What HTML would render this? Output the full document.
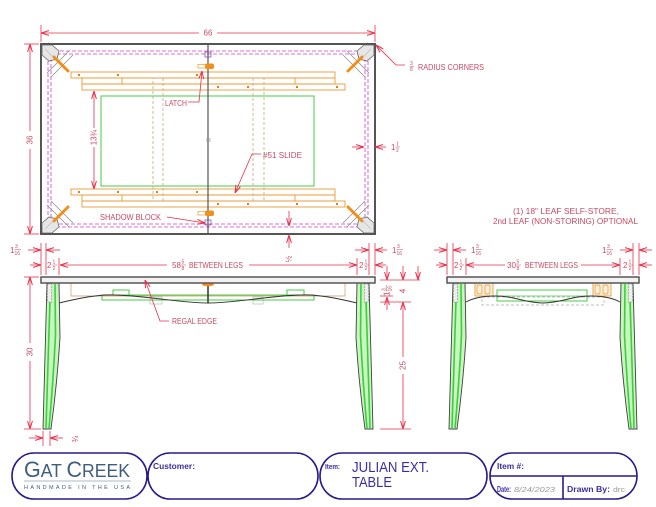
<!DOCTYPE html>
<html><head><meta charset="utf-8"><style>
html,body{margin:0;padding:0;background:#fff;}
svg{display:block;}
.d{font-family:"Liberation Sans",sans-serif;font-size:8px;fill:#c74a63;}
.f{font-family:"Liberation Sans",sans-serif;font-size:5px;fill:#c74a63;}
.dl{stroke:#e8304a;stroke-width:0.8;fill:none;}
.t{font-family:"Liberation Sans",sans-serif;fill:#3a2fa0;}
</style></head><body>
<svg width="656" height="507" viewBox="0 0 656 507" xmlns="http://www.w3.org/2000/svg">
<defs>
<marker id="ar" viewBox="0 0 8 6" refX="8" refY="3" markerWidth="8" markerHeight="6" markerUnits="userSpaceOnUse" orient="auto"><path d="M0,0.6 L8,3 L0,5.4" fill="none" stroke="#e8304a" stroke-width="1"/></marker>
<g id="cn">
 <line x1="47" y1="73" x2="69" y2="51" stroke="#8a8a8a" stroke-width="0.7"/>
 <line x1="51" y1="77" x2="73" y2="55" stroke="#8a8a8a" stroke-width="0.7"/>
 <path d="M42,45 L52,45 L59,51 L57,59 L49,61 L42,55 Z" fill="#e6e6e6" stroke="#6a6a6a" stroke-width="0.8"/>
 <line x1="45" y1="49" x2="53" y2="57" stroke="#999" stroke-width="0.5"/>
 <line x1="54" y1="57" x2="68" y2="71" stroke="#f0901a" stroke-width="3" stroke-linecap="round"/>
</g>
<g id="rl" fill="none" stroke="#eb9a35" stroke-width="0.9">
 <rect x="71" y="72" width="137" height="6"/>
 <rect x="82" y="78" width="126" height="12"/>
 <line x1="82" y1="84" x2="208" y2="84"/>
 <line x1="122" y1="78" x2="122" y2="84"/>
 <rect x="208" y="72" width="127" height="12"/>
 <line x1="208" y1="78" x2="335" y2="78"/>
 <line x1="295" y1="78" x2="295" y2="84"/>
 <rect x="208" y="84" width="137" height="6"/>
 <g fill="#d98020" stroke="none">
  <rect x="78" y="74" width="2" height="2"/><rect x="117" y="74" width="2" height="2"/><rect x="196" y="74" width="2" height="2"/>
  <rect x="217" y="86" width="2" height="2"/><rect x="247" y="86" width="2" height="2"/><rect x="296" y="86" width="2" height="2"/><rect x="336" y="86" width="2" height="2"/>
 </g>
</g>
<g id="lg">
 <path d="M47,283 L43,429 L51,429 Q57,385 60,338 L59,283 Z" fill="#c8f5c0" stroke="#404040" stroke-width="0.9"/>
 <path d="M50.5,284 L46,428" stroke="#3ccf3c" stroke-width="1.6" fill="none"/>
 <path d="M55,284 L55.5,335 Q53,385 49,428" stroke="#3ccf3c" stroke-width="1.6" fill="none"/>
 <rect x="47.5" y="284" width="4" height="18" fill="#eee" stroke="#888" stroke-width="0.6" stroke-dasharray="2,1"/>
</g>
</defs>

<!-- ================= TOP VIEW ================= -->
<rect x="48" y="51" width="320" height="176" fill="none" stroke="#cc44cc" stroke-width="0.8" stroke-dasharray="4,2"/>
<rect x="51" y="54" width="314" height="170" fill="none" stroke="#cc44cc" stroke-width="0.8" stroke-dasharray="4,2"/>
<rect x="101" y="96" width="213" height="90" fill="none" stroke="#44cc44" stroke-width="1"/>
<use href="#rl"/>
<use href="#rl" transform="translate(0,117)"/>
<rect x="156" y="191" width="2" height="2" fill="#d98020"/>
<rect x="153" y="78" width="10" height="123" fill="none" stroke="#c8a878" stroke-width="0.8" stroke-dasharray="3,2"/>
<rect x="253" y="78" width="11" height="123" fill="none" stroke="#c8a878" stroke-width="0.8" stroke-dasharray="3,2"/>
<use href="#cn"/>
<use href="#cn" transform="translate(416,0) scale(-1,1)"/>
<use href="#cn" transform="translate(0,278) scale(1,-1)"/>
<use href="#cn" transform="translate(416,278) scale(-1,-1)"/>
<rect x="41" y="44" width="334" height="190" fill="none" stroke="#555" stroke-width="2"/>
<line x1="208" y1="44" x2="208" y2="234" stroke="#555" stroke-width="1.2"/>
<rect x="205" y="52" width="6" height="5" fill="none" stroke="#8040a0" stroke-width="0.7"/>
<rect x="205" y="220" width="6" height="5" fill="none" stroke="#8040a0" stroke-width="0.7"/>
<line x1="206" y1="139" x2="211" y2="139" stroke="#888" stroke-width="0.6"/>
<line x1="206" y1="141" x2="211" y2="141" stroke="#888" stroke-width="0.6"/>
<!-- latches -->
<rect x="198" y="64.5" width="8" height="3.5" fill="#fff" stroke="#eb9a35" stroke-width="0.7"/>
<rect x="205" y="63.5" width="9" height="5.5" rx="2" fill="#f0901a"/>
<rect x="198" y="211.5" width="8" height="3.5" fill="#fff" stroke="#eb9a35" stroke-width="0.7"/>
<rect x="205" y="210.5" width="9" height="5.5" rx="2" fill="#f0901a"/>

<!-- top view dims -->
<line class="dl" x1="41" y1="25" x2="41" y2="42"/>
<line class="dl" x1="375" y1="25" x2="375" y2="42"/>
<line class="dl" x1="199" y1="33" x2="41" y2="33" marker-end="url(#ar)"/>
<line class="dl" x1="217" y1="33" x2="375" y2="33" marker-end="url(#ar)"/>
<text class="d" x="208" y="35.5" text-anchor="middle">66</text>

<line class="dl" x1="24" y1="44" x2="39" y2="44"/>
<line class="dl" x1="24" y1="234" x2="39" y2="234"/>
<line class="dl" x1="30" y1="131" x2="30" y2="44" marker-end="url(#ar)"/>
<line class="dl" x1="30" y1="149" x2="30" y2="234" marker-end="url(#ar)"/>
<text class="d" transform="translate(32.5,140) rotate(-90)" text-anchor="middle">36</text>

<line class="dl" x1="94" y1="128" x2="94" y2="91" marker-end="url(#ar)"/>
<line class="dl" x1="94" y1="147" x2="94" y2="189" marker-end="url(#ar)"/>
<text class="d" transform="translate(96.5,137.5) rotate(-90)" text-anchor="middle">13¾</text>

<line class="dl" x1="352" y1="147" x2="364" y2="147" marker-end="url(#ar)"/>
<line class="dl" x1="386" y1="147" x2="375" y2="147" marker-end="url(#ar)"/>
<text class="d" x="391" y="150">1</text><text class="f" x="396" y="145.5">1</text><line x1="395.5" y1="147" x2="400" y2="147" stroke="#c74a63" stroke-width="0.5"/><text class="f" x="396" y="152">2</text>

<line class="dl" x1="289" y1="211" x2="289" y2="226" marker-end="url(#ar)"/>
<line class="dl" x1="289" y1="248" x2="289" y2="235" marker-end="url(#ar)"/>
<text class="d" transform="translate(291.5,259) rotate(-90)" text-anchor="middle">½</text>

<!-- leaders top -->
<polyline class="dl" points="188,102 199,102 202,71" marker-end="url(#ar)"/>
<text class="d" x="165" y="106" textLength="22" lengthAdjust="spacingAndGlyphs">LATCH</text>
<line class="dl" x1="167" y1="217" x2="205" y2="223" marker-end="url(#ar)"/>
<text class="d" x="100" y="220" textLength="61" lengthAdjust="spacingAndGlyphs">SHADOW BLOCK</text>
<polyline class="dl" points="261,154 252,154 235,193" marker-end="url(#ar)"/>
<text class="d" x="263" y="158" textLength="39" lengthAdjust="spacingAndGlyphs">#51 SLIDE</text>
<polyline class="dl" points="405,65 396,65 376,45" marker-end="url(#ar)"/>
<text class="f" x="410" y="65">3</text><line x1="409.5" y1="66.3" x2="414" y2="66.3" stroke="#c74a63" stroke-width="0.5"/><text class="f" x="410" y="71">8</text>
<text class="d" x="418" y="70" textLength="66" lengthAdjust="spacingAndGlyphs">RADIUS CORNERS</text>

<text class="d" x="513" y="214" textLength="106" lengthAdjust="spacingAndGlyphs">(1) 18" LEAF SELF-STORE,</text>
<text class="d" x="493" y="224" textLength="145" lengthAdjust="spacingAndGlyphs">2nd LEAF (NON-STORING) OPTIONAL</text>

<!-- ================= FRONT VIEW ================= -->
<path d="M71,283 L71,296 L345,296 L345,283" fill="none" stroke="#d8b080" stroke-width="0.9"/>
<rect x="102" y="295" width="212" height="5" fill="none" stroke="#44cc44" stroke-width="1"/>
<rect x="113" y="290" width="16" height="5" fill="none" stroke="#44cc44" stroke-width="1"/>
<rect x="287" y="290" width="17" height="5" fill="none" stroke="#44cc44" stroke-width="1"/>
<rect x="150" y="297" width="12" height="7" fill="none" stroke="#aaa" stroke-width="0.6"/>
<rect x="253" y="297" width="10" height="7" fill="none" stroke="#aaa" stroke-width="0.6"/>
<path d="M59,303 C80,298 100,294 115,295 C150,296 180,303 208,303 C236,303 266,296 301,295 C316,294 336,298 357,303" fill="none" stroke="#333" stroke-width="1"/>
<line x1="208" y1="283" x2="208" y2="303" stroke="#333" stroke-width="1.5"/>
<ellipse cx="208" cy="284.5" rx="6" ry="1.8" fill="#f0901a"/>
<use href="#lg"/>
<use href="#lg" transform="translate(416,0) scale(-1,1)"/>
<rect x="41" y="277" width="334" height="6" fill="#f2f2f2" stroke="#555" stroke-width="1.5"/>

<!-- front dims -->
<line class="dl" x1="41" y1="243" x2="41" y2="275"/>
<line class="dl" x1="46" y1="243" x2="46" y2="275"/>
<line class="dl" x1="59" y1="258" x2="59" y2="275"/>
<line class="dl" x1="28" y1="250" x2="41" y2="250" marker-end="url(#ar)"/>
<line class="dl" x1="60" y1="250" x2="46" y2="250" marker-end="url(#ar)"/>
<text class="d" x="10" y="253">1</text><text class="f" x="15" y="248">3</text><line x1="14.5" y1="249.5" x2="21" y2="249.5" stroke="#c74a63" stroke-width="0.5"/><text class="f" x="14.5" y="255">16</text>
<line class="dl" x1="30" y1="265" x2="41" y2="265" marker-end="url(#ar)"/>
<text class="d" x="47" y="268">2</text><text class="f" x="52.5" y="263.5">1</text><line x1="52" y1="265" x2="57" y2="265" stroke="#c74a63" stroke-width="0.5"/><text class="f" x="52.5" y="270">2</text>
<line class="dl" x1="167" y1="265" x2="60" y2="265" marker-end="url(#ar)"/>
<line class="dl" x1="249" y1="265" x2="357" y2="265" marker-end="url(#ar)"/>
<text class="d" x="172" y="268">58</text><text class="f" x="181.5" y="263.5">5</text><line x1="181" y1="265" x2="186" y2="265" stroke="#c74a63" stroke-width="0.5"/><text class="f" x="181.5" y="270">8</text>
<text class="d" x="189" y="268" textLength="54" lengthAdjust="spacingAndGlyphs">BETWEEN LEGS</text>

<line class="dl" x1="357" y1="258" x2="357" y2="275"/>
<line class="dl" x1="369" y1="243" x2="369" y2="275"/>
<line class="dl" x1="375" y1="243" x2="375" y2="275"/>
<line class="dl" x1="355" y1="250" x2="369" y2="250" marker-end="url(#ar)"/>
<line class="dl" x1="387" y1="250" x2="375" y2="250" marker-end="url(#ar)"/>
<text class="d" x="392" y="253">1</text><text class="f" x="397" y="248">3</text><line x1="396.5" y1="249.5" x2="403" y2="249.5" stroke="#c74a63" stroke-width="0.5"/><text class="f" x="396.5" y="255">16</text>
<text class="d" x="359" y="268">2</text><text class="f" x="364.5" y="263.5">1</text><line x1="364" y1="265" x2="369" y2="265" stroke="#c74a63" stroke-width="0.5"/><text class="f" x="364.5" y="270">2</text>
<line class="dl" x1="386" y1="265" x2="375" y2="265" marker-end="url(#ar)"/>

<line class="dl" x1="380" y1="280" x2="420" y2="280"/>
<line class="dl" x1="380" y1="296" x2="393" y2="296"/>
<line class="dl" x1="380" y1="302" x2="411" y2="302"/>
<line class="dl" x1="380" y1="429" x2="411" y2="429"/>
<line class="dl" x1="387" y1="266" x2="387" y2="280" marker-end="url(#ar)"/>
<line class="dl" x1="387" y1="310" x2="387" y2="297" marker-end="url(#ar)"/>
<g transform="translate(389.5,289) rotate(-90)"><text class="d" x="-7" y="0">1</text><text class="f" x="-2" y="-4">3</text><line x1="-2.5" y1="-3" x2="4" y2="-3" stroke="#c74a63" stroke-width="0.5"/><text class="f" x="-2.5" y="2">16</text></g>
<line class="dl" x1="403" y1="266" x2="403" y2="280" marker-end="url(#ar)"/>
<text class="d" transform="translate(405.5,291) rotate(-90)" text-anchor="middle">4</text>
<line class="dl" x1="418" y1="266" x2="418" y2="280" marker-end="url(#ar)"/>
<line class="dl" x1="403" y1="357" x2="403" y2="302" marker-end="url(#ar)"/>
<line class="dl" x1="403" y1="374" x2="403" y2="429" marker-end="url(#ar)"/>
<text class="d" transform="translate(405.5,365.5) rotate(-90)" text-anchor="middle">25</text>

<line class="dl" x1="24" y1="277" x2="39" y2="277"/>
<line class="dl" x1="24" y1="429" x2="41" y2="429"/>
<line class="dl" x1="30" y1="343" x2="30" y2="277" marker-end="url(#ar)"/>
<line class="dl" x1="30" y1="361" x2="30" y2="429" marker-end="url(#ar)"/>
<text class="d" transform="translate(32.5,352) rotate(-90)" text-anchor="middle">30</text>

<line class="dl" x1="43" y1="431" x2="43" y2="446"/>
<line class="dl" x1="50" y1="431" x2="50" y2="446"/>
<line class="dl" x1="29" y1="438" x2="43" y2="438" marker-end="url(#ar)"/>
<line class="dl" x1="63" y1="438" x2="50" y2="438" marker-end="url(#ar)"/>
<text class="d" transform="translate(78,439) rotate(-90)" text-anchor="middle">¾</text>

<polyline class="dl" points="169,321 160,321 145,280" marker-end="url(#ar)"/>
<text class="d" x="172" y="324" textLength="45" lengthAdjust="spacingAndGlyphs">REGAL EDGE</text>

<!-- ================= END VIEW ================= -->
<rect x="482" y="297" width="122" height="8" fill="none" stroke="#aaa" stroke-width="0.7" stroke-dasharray="3,2"/>
<rect x="497" y="290" width="90" height="11" fill="none" stroke="#44cc44" stroke-width="1"/>
<line x1="497" y1="296" x2="587" y2="296" stroke="#44cc44" stroke-width="0.8"/>
<g>
 <rect x="475" y="283" width="18" height="13" fill="#fdf0dc" stroke="#e8952e" stroke-width="0.8"/>
 <rect x="477" y="285" width="5" height="9" rx="1.5" fill="none" stroke="#e8952e" stroke-width="0.7"/>
 <rect x="485" y="285" width="5" height="9" rx="1.5" fill="none" stroke="#e8952e" stroke-width="0.7"/>
 <rect x="593" y="283" width="18" height="13" fill="#fdf0dc" stroke="#e8952e" stroke-width="0.8"/>
 <rect x="595" y="285" width="5" height="9" rx="1.5" fill="none" stroke="#e8952e" stroke-width="0.7"/>
 <rect x="603" y="285" width="5" height="9" rx="1.5" fill="none" stroke="#e8952e" stroke-width="0.7"/>
</g>
<path d="M466,302 C475,297 485,296 495,296 C515,296 525,303 543,303 C561,303 571,296 591,296 C601,296 611,297 620,302" fill="none" stroke="#333" stroke-width="1"/>
<use href="#lg" transform="translate(406,0)"/>
<use href="#lg" transform="translate(680,0) scale(-1,1)"/>
<rect x="447" y="277" width="192" height="6" fill="#f2f2f2" stroke="#555" stroke-width="1.5"/>

<!-- end dims -->
<line class="dl" x1="447" y1="243" x2="447" y2="275"/>
<line class="dl" x1="453" y1="243" x2="453" y2="275"/>
<line class="dl" x1="466" y1="258" x2="466" y2="275"/>
<line class="dl" x1="434" y1="250" x2="447" y2="250" marker-end="url(#ar)"/>
<line class="dl" x1="466" y1="250" x2="453" y2="250" marker-end="url(#ar)"/>
<text class="d" x="471" y="253">1</text><text class="f" x="476" y="248">3</text><line x1="475.5" y1="249.5" x2="482" y2="249.5" stroke="#c74a63" stroke-width="0.5"/><text class="f" x="475.5" y="255">16</text>
<line class="dl" x1="436" y1="265" x2="447" y2="265" marker-end="url(#ar)"/>
<text class="d" x="454" y="268">2</text><text class="f" x="459.5" y="263.5">1</text><line x1="459" y1="265" x2="464" y2="265" stroke="#c74a63" stroke-width="0.5"/><text class="f" x="459.5" y="270">2</text>
<line class="dl" x1="505" y1="265" x2="466" y2="265" marker-end="url(#ar)"/>
<line class="dl" x1="581" y1="265" x2="620" y2="265" marker-end="url(#ar)"/>
<text class="d" x="507" y="268">30</text><text class="f" x="516.5" y="263.5">5</text><line x1="516" y1="265" x2="521" y2="265" stroke="#c74a63" stroke-width="0.5"/><text class="f" x="516.5" y="270">8</text>
<text class="d" x="525" y="268" textLength="53" lengthAdjust="spacingAndGlyphs">BETWEEN LEGS</text>
<line class="dl" x1="620" y1="258" x2="620" y2="275"/>
<line class="dl" x1="633" y1="243" x2="633" y2="275"/>
<line class="dl" x1="639" y1="243" x2="639" y2="275"/>
<line class="dl" x1="620" y1="250" x2="633" y2="250" marker-end="url(#ar)"/>
<line class="dl" x1="652" y1="250" x2="639" y2="250" marker-end="url(#ar)"/>
<text class="d" x="602" y="253">1</text><text class="f" x="607" y="248">3</text><line x1="606.5" y1="249.5" x2="613" y2="249.5" stroke="#c74a63" stroke-width="0.5"/><text class="f" x="606.5" y="255">16</text>
<text class="d" x="623" y="268">2</text><text class="f" x="628.5" y="263.5">1</text><line x1="628" y1="265" x2="633" y2="265" stroke="#c74a63" stroke-width="0.5"/><text class="f" x="628.5" y="270">2</text>
<line class="dl" x1="652" y1="265" x2="639" y2="265" marker-end="url(#ar)"/>

<!-- ================= TITLE BLOCK ================= -->
<g fill="none" stroke="#2a1a8a" stroke-width="1.6">
 <rect x="12" y="453" width="135" height="46" rx="22" ry="23"/>
 <rect x="148" y="453" width="170" height="46" rx="22" ry="23"/>
 <rect x="320" y="453" width="167" height="46" rx="22" ry="23"/>
 <rect x="490" y="453" width="147" height="46" rx="22" ry="23"/>
 <line x1="490" y1="476" x2="637" y2="476"/>
 <line x1="563" y1="476" x2="563" y2="499"/>
</g>
<text x="24" y="477" font-family="Liberation Sans, sans-serif" fill="#3f5d7d" textLength="106" lengthAdjust="spacingAndGlyphs"><tspan font-size="22">G</tspan><tspan font-size="18">AT </tspan><tspan font-size="22">C</tspan><tspan font-size="18">REEK</tspan></text>
<line x1="24" y1="481" x2="131" y2="481" stroke="#8fa3b5" stroke-width="0.7"/>
<text x="24" y="489" font-family="Liberation Sans, sans-serif" font-size="5.5" fill="#3f5d7d" textLength="106" lengthAdjust="spacing">HANDMADE IN THE USA</text>

<text class="t" x="153" y="469" font-size="8.5" font-weight="bold" textLength="42" lengthAdjust="spacingAndGlyphs">Customer:</text>
<text class="t" x="325" y="469" font-size="7.5" font-weight="bold" textLength="15" lengthAdjust="spacingAndGlyphs">Item:</text>
<text class="t" x="352" y="472" font-size="15" textLength="77" lengthAdjust="spacingAndGlyphs">JULIAN EXT.</text>
<text class="t" x="352" y="487" font-size="15" textLength="40" lengthAdjust="spacingAndGlyphs">TABLE</text>
<text class="t" x="497" y="469" font-size="8" font-weight="bold" textLength="27" lengthAdjust="spacingAndGlyphs">Item #:</text>
<text class="t" x="497" y="492" font-size="8" font-weight="bold" textLength="14" lengthAdjust="spacingAndGlyphs">Date:</text>
<text x="514" y="492" font-family="Liberation Sans, sans-serif" font-size="7" font-style="italic" fill="#999" textLength="41" lengthAdjust="spacingAndGlyphs">8/24/2023</text>
<text class="t" x="567" y="492" font-size="8" font-weight="bold" textLength="43" lengthAdjust="spacingAndGlyphs">Drawn By:</text>
<text x="613" y="492" font-family="Liberation Sans, sans-serif" font-size="7" fill="#999" textLength="12" lengthAdjust="spacingAndGlyphs">drc</text>
</svg>
</body></html>
